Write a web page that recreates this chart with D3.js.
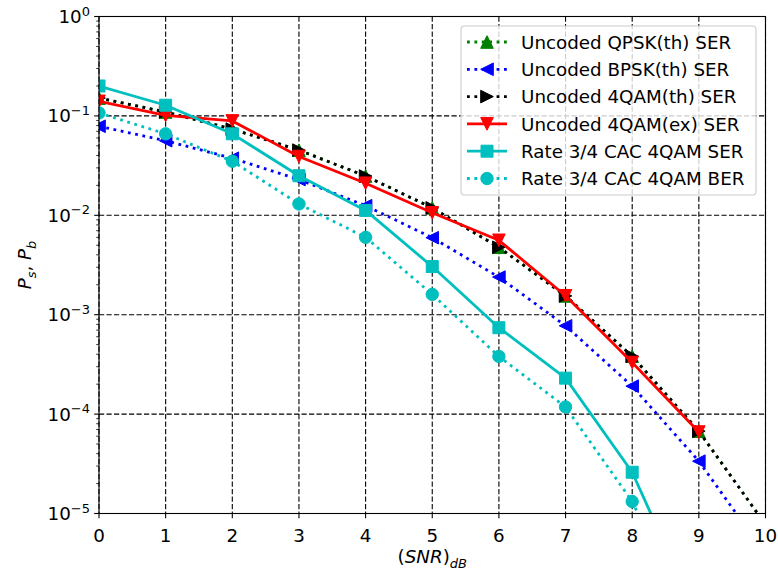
<!DOCTYPE html>
<html>
<head>
<meta charset="utf-8">
<script src="https://cdn.jsdelivr.net/npm/d3@7"></script>
<style>
  body { margin: 0; background: #fff; }
  svg { display: block; font-family: "DejaVu Sans", sans-serif; }
</style>
</head>
<body>
<svg id="chart" width="778" height="576"></svg>
<script>
// SNR grid (dB)
const snrDb = [0, 1, 2, 3, 4, 5, 6, 7, 8, 9, 10];

// Theoretical curves (0..10 dB)
const qpskTh = [0.1511, 0.1094, 0.07361, 0.04524, 0.02484, 0.01187, 0.00477, 0.001545, 0.000382, 6.73e-5, 7.74e-6];
const bpskTh = [0.07865, 0.05628, 0.03751, 0.02288, 0.0125, 0.005954, 0.002388, 0.000773, 0.000191, 3.36e-5, 3.87e-6];
const qam4Th = [0.1511, 0.1094, 0.07361, 0.04524, 0.02484, 0.01187, 0.00477, 0.001545, 0.000382, 6.73e-5, 7.74e-6];

// Simulated curves (0..9 dB)
const simSnrDb = [0, 1, 2, 3, 4, 5, 6, 7, 8, 9];
const qam4Ex = [0.14, 0.101, 0.089, 0.039, 0.021, 0.0106, 0.0056, 0.00155, 0.00033, 6.6e-5];
const cacSer = [0.20, 0.128, 0.066, 0.025, 0.0112, 0.00305, 0.00074, 0.00023, 2.6e-5, 8.5e-7];
const cacBer = [0.107, 0.066, 0.035, 0.013, 0.006, 0.0016, 0.00038, 0.000118, 1.32e-5, 5e-7];

// Axis ticks
const xTicks = [0, 1, 2, 3, 4, 5, 6, 7, 8, 9, 10];
const yTickExponents = [0, -1, -2, -3, -4, -5];

const series = [
  { name: "Uncoded QPSK(th) SER", x: snrDb, y: qpskTh, color: "#008000", dotted: true, marker: "triUp" },
  { name: "Uncoded BPSK(th) SER", x: snrDb, y: bpskTh, color: "#0000ff", dotted: true, marker: "triLeft" },
  { name: "Uncoded 4QAM(th) SER", x: snrDb, y: qam4Th, color: "#000000", dotted: true, marker: "triRight" },
  { name: "Uncoded 4QAM(ex) SER", x: simSnrDb, y: qam4Ex, color: "#ff0000", dotted: false, marker: "triDown" },
  { name: "Rate 3/4 CAC 4QAM SER", x: simSnrDb, y: cacSer, color: "#00bfbf", dotted: false, marker: "square" },
  { name: "Rate 3/4 CAC 4QAM BER", x: simSnrDb, y: cacBer, color: "#00bfbf", dotted: true, marker: "circle" }
];

const FS = 18.3;   // main font size
const FSS = 13;    // sub/superscript size
const m = { left: 99, right: 765.5, top: 16.5, bottom: 513.5 };

const x = d3.scaleLinear().domain([0, 10]).range([m.left, m.right]);
const y = d3.scaleLog().domain([1e-5, 1]).range([m.bottom, m.top]);

const svg = d3.select("#chart");

svg.append("defs").append("clipPath").attr("id", "plotClip")
  .append("rect")
  .attr("x", m.left).attr("y", m.top)
  .attr("width", m.right - m.left).attr("height", m.bottom - m.top);

// Grid
const grid = svg.append("g").attr("stroke", "#000").attr("stroke-width", 1.1)
  .attr("stroke-dasharray", "5.2,2.3").attr("fill", "none");
xTicks.forEach(t => grid.append("line")
  .attr("x1", x(t)).attr("x2", x(t)).attr("y1", m.top).attr("y2", m.bottom));
yTickExponents.forEach(e => grid.append("line")
  .attr("x1", m.left).attr("x2", m.right).attr("y1", y(Math.pow(10, e))).attr("y2", y(Math.pow(10, e))));

// Marker shapes
function markerPath(kind, r) {
  switch (kind) {
    case "triUp": return `M0,${-r}L${-r},${r}L${r},${r}Z`;
    case "triDown": return `M0,${r}L${-r},${-r}L${r},${-r}Z`;
    case "triLeft": return `M${-r},0L${r},${-r}L${r},${r}Z`;
    case "triRight": return `M${r},0L${-r},${-r}L${-r},${r}Z`;
    case "square": return `M${-r},${-r}H${r}V${r}H${-r}Z`;
    case "circle": return `M${r},0A${r},${r},0,1,1,${-r},0A${r},${r},0,1,1,${r},0Z`;
  }
}
function markerRadius(kind) {
  if (kind === "square") return 6.0;
  if (kind === "circle") return 6.2;
  return 6.3;
}

const plot = svg.append("g").attr("clip-path", "url(#plotClip)");
const line = d3.line().x(d => x(d[0])).y(d => y(d[1]));

series.forEach(s => {
  const pts = s.x.map((v, i) => [v, s.y[i]]);
  const g = plot.append("g");
  g.append("path")
    .attr("d", line(pts))
    .attr("fill", "none")
    .attr("stroke", s.color)
    .attr("stroke-width", 2.8)
    .attr("stroke-dasharray", s.dotted ? "2.8,4.6" : null)
    .attr("stroke-linejoin", "round");
  g.selectAll("path.mk").data(pts).join("path")
    .attr("class", "mk")
    .attr("transform", d => `translate(${x(d[0])},${y(d[1])})`)
    .attr("d", markerPath(s.marker, markerRadius(s.marker)))
    .attr("fill", s.color)
    .attr("stroke", s.color)
    .attr("stroke-width", 1);
});

// Spines
svg.append("rect")
  .attr("x", m.left).attr("y", m.top)
  .attr("width", m.right - m.left).attr("height", m.bottom - m.top)
  .attr("fill", "none").attr("stroke", "#000").attr("stroke-width", 1.1);

// X ticks and labels
const axes = svg.append("g").attr("stroke", "#000").attr("stroke-width", 1.1);
xTicks.forEach(t => {
  axes.append("line").attr("x1", x(t)).attr("x2", x(t)).attr("y1", m.bottom).attr("y2", m.bottom + 4.8);
  svg.append("text").attr("x", x(t)).attr("y", m.bottom + 28)
    .attr("text-anchor", "middle").attr("font-size", FS).attr("fill", "#000").text(t);
});

// Y ticks (major + log minor) and labels
yTickExponents.forEach(e => {
  const v = Math.pow(10, e);
  axes.append("line").attr("x1", m.left - 4.8).attr("x2", m.left).attr("y1", y(v)).attr("y2", y(v));
  const t = svg.append("text").attr("x", m.left - 9).attr("y", y(v) + 6.5)
    .attr("text-anchor", "end").attr("fill", "#000").attr("font-size", FS);
  t.append("tspan").text("10");
  t.append("tspan").attr("dy", -7.5).attr("font-size", FSS).text(e === 0 ? "0" : "\u2212" + Math.abs(e));
  if (e > -5) {
    for (let k = 2; k <= 9; k++) {
      const mv = k * Math.pow(10, e - 1);
      axes.append("line").attr("x1", m.left - 2.8).attr("x2", m.left)
        .attr("y1", y(mv)).attr("y2", y(mv)).attr("stroke-width", 0.8);
    }
  }
});

// Axis titles
const xl = svg.append("text").attr("x", (m.left + m.right) / 2).attr("y", 563)
  .attr("text-anchor", "middle").attr("font-size", FS).attr("fill", "#000");
xl.append("tspan").text("(");
xl.append("tspan").attr("font-style", "italic").text("SNR");
xl.append("tspan").text(")");
xl.append("tspan").attr("font-style", "italic").attr("font-size", FSS).attr("dy", 4.5).text("dB");

const yl = svg.append("text").attr("transform", `translate(31,${(m.top + m.bottom) / 2}) rotate(-90)`)
  .attr("text-anchor", "middle").attr("font-size", FS).attr("fill", "#000");
yl.append("tspan").attr("font-style", "italic").text("P");
yl.append("tspan").attr("font-style", "italic").attr("font-size", FSS).attr("dy", 4.5).text("s");
yl.append("tspan").attr("dy", -4.5).text(", ");
yl.append("tspan").attr("font-style", "italic").text("P");
yl.append("tspan").attr("font-style", "italic").attr("font-size", FSS).attr("dy", 4.5).text("b");

// Legend
const lg = svg.append("g");
lg.append("rect")
  .attr("x", 461).attr("y", 26).attr("width", 295).attr("height", 169).attr("rx", 3.5)
  .attr("fill", "#fff").attr("fill-opacity", 0.8)
  .attr("stroke", "#cccccc").attr("stroke-width", 1.1);
series.forEach((s, i) => {
  const cy = 42 + i * 27.3;
  const row = lg.append("g");
  row.append("line").attr("x1", 467).attr("x2", 507).attr("y1", cy).attr("y2", cy)
    .attr("stroke", s.color).attr("stroke-width", 2.8)
    .attr("stroke-dasharray", s.dotted ? "2.8,4.6" : null);
  row.append("path").attr("transform", `translate(487,${cy})`)
    .attr("d", markerPath(s.marker, markerRadius(s.marker)))
    .attr("fill", s.color).attr("stroke", s.color).attr("stroke-width", 1);
  row.append("text").attr("x", 521).attr("y", cy + 6.6)
    .attr("font-size", FS).attr("fill", "#000").text(s.name);
});
</script>
</body>
</html>
